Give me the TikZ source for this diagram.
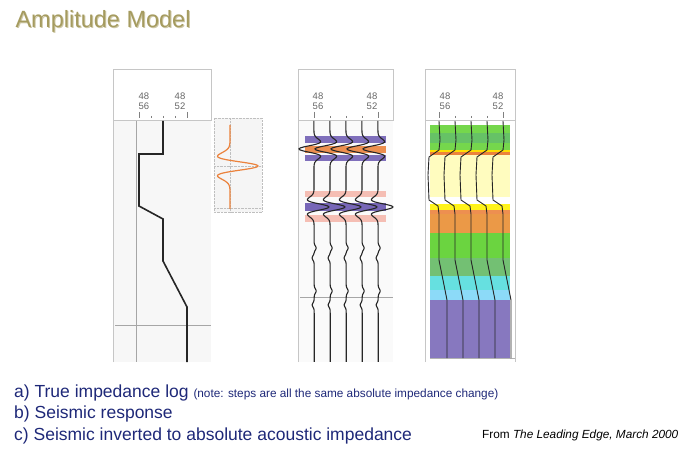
\documentclass[tikz,border=0pt]{standalone}
\usepackage{fontspec}
\setmainfont{Liberation Sans}
\begin{document}
\begin{tikzpicture}[x=1pt,y=-1pt,
  frame/.style={draw=gray!45,line width=1pt},
  lab/.style={font=\fontsize{9.5}{10.5}\selectfont,text=gray!80!black,align=center,inner sep=0},
  trace/.style={line width=1.1pt,black!85},
  declare function={rk(\y,\c,\s)=(1-2*((\y-\c)/\s)^2)*exp(max(-30,-((\y-\c)/\s)^2));
                    gs(\y,\c,\s)=exp(max(-30,-((\y-\c)/\s)^2));}]
\useasboundingbox (0,0) rectangle (694,449);
\definecolor{titc}{RGB}{165,155,95}
\definecolor{txt}{RGB}{30,40,120}
\definecolor{pur}{RGB}{95,75,170}
\definecolor{orn}{RGB}{235,130,60}
\definecolor{pnk}{RGB}{245,190,180}
% title
\node[anchor=west,text=titc!55!white,font=\fontsize{23.5}{24}\selectfont] (tsh) at (13,22) {Amplitude Model};
\node[anchor=west,text=titc,font=\fontsize{23.5}{24}\selectfont] (title) at (12,21) {Amplitude Model};
% ---------- panel a
\fill[gray!6] (113,121) rectangle (211,362);
\draw[frame] (113,362) -- (113,70) -- (211,70) -- (211,121);
\draw[frame] (113,121) -- (211,121);
\node[lab] (a1) at (144,101) {48\\56};
\node[lab] (a2) at (180,101) {48\\52};
\draw[gray] (139,112) -- (139,118) (187,112) -- (187,118);
\foreach \t in {151,163,175} \draw[gray] (\t,116) -- (\t,118);
\draw[gray!70,line width=0.8pt] (136,121) -- (136,362);
\draw[gray!70,line width=0.8pt] (115,325) -- (211,325);
\draw[black!85,line width=1.6pt] (163,121) -- (163,154) -- (139,154) -- (139,206) -- (163,219) -- (163,261) -- (187,307) -- (187,362);
% wavelet
\fill[gray!8] (214,118) rectangle (262,212);
\draw[gray!50,densely dotted] (214,118) rectangle (262,212) (230,118) -- (230,212) (214,166) -- (262,166) (214,208) -- (262,208);
\draw[orn,line width=1.2pt] plot[domain=125:209,samples=120] ({230+28*rk(\x,166,8)},\x);
% ---------- panel b
\fill[gray!4] (298,121) rectangle (393,362);
\draw[frame] (298,362) -- (298,70) -- (393,70) -- (393,121);
\draw[frame] (298,121) -- (393,121);
\node[lab] (b1) at (318,101) {48\\56};
\node[lab] (b2) at (372,101) {48\\52};
\draw[gray] (314,112) -- (314,118) (378,112) -- (378,118);
\foreach \t in {330,346,362} \draw[gray] (\t,116) -- (\t,118);
\fill[pur!80] (305,136) rectangle (386,143);
\fill[orn!90] (305,146) rectangle (386,153);
\fill[pur!80] (305,155) rectangle (386,161);
\fill[pnk] (305,191) rectangle (386,197);
\fill[pur!85] (305,203) rectangle (386,211);
\fill[pnk] (305,215) rectangle (386,222);
\draw[gray!70,line width=0.8pt] (300,297) -- (393,297);
\foreach \xx in {314,330,346,362,378}
  \draw[trace] plot[domain=121:362,samples=260,smooth] ({\xx-15*rk(\x,149,6)+15*rk(\x,207,6)+2*gs(\x,248,3)-2*gs(\x,258,3)+2*gs(\x,291,3)-2*gs(\x,305,3)},\x);
% ---------- panel c
\draw[frame] (425,362) -- (425,70) -- (515,70) -- (515,362);
\draw[frame] (425,121) -- (515,121);
\node[lab] (c1) at (445,101) {48\\56};
\node[lab] (c2) at (498,101) {48\\52};
\draw[gray] (439,112) -- (439,118) (503,112) -- (503,118);
\foreach \t in {455,471,487} \draw[gray] (\t,116) -- (\t,118);
\fill[green!55!olive!70] (430,125) rectangle (510,150);
\fill[green!60!black!60] (430,133) rectangle (510,143);
\fill[yellow!80!orange] (430,150) rectangle (510,152);
\fill[orn] (430,152) rectangle (510,155);
\fill[yellow!25] (430,155) rectangle (510,197);
\fill[white] (430,197) rectangle (510,204);
\fill[yellow!90] (430,204) rectangle (510,210);
\fill[orn!90] (430,210) rectangle (510,214);
\fill[orange!60!brown!80] (430,214) rectangle (510,233);
\fill[green!55!olive!75] (430,233) rectangle (510,258);
\fill[green!55!black!55] (430,258) rectangle (510,276);
\fill[teal!40!cyan!60] (430,276) rectangle (510,290);
\fill[cyan!45] (430,290) rectangle (510,300);
\fill[pur!75] (430,300) rectangle (510,358);
\draw[gray!60] (430,358) -- (515,358);
\foreach \xx in {439,455,471,487,503}
  \draw[trace,line width=0.9pt] (\xx,121) -- (\xx+1,140) -- (\xx,150) -- (\xx-10,157) -- (\xx-11,175) -- (\xx-10,200) -- (\xx-1,206) -- (\xx,214) -- (\xx,260) -- (\xx+8,300) -- (\xx+8,358);
% ---------- text
\node[anchor=base west,text=txt,font=\fontsize{17.5}{18}\selectfont,inner sep=0] (ta) at (14,397) {a) True impedance log {\fontsize{11.8}{12}\selectfont (note: steps are all the same absolute impedance change)}};
\node[anchor=base west,text=txt,font=\fontsize{17.5}{18}\selectfont,inner sep=0] (tb) at (14,418) {b) Seismic response};
\node[anchor=base west,text=txt,font=\fontsize{17.5}{18}\selectfont,inner sep=0] (tc) at (14,440) {c) Seismic inverted to absolute acoustic impedance};
\node[anchor=base west,font=\fontsize{11.8}{12}\selectfont,inner sep=0] (src) at (482,438) {From \textit{The Leading Edge, March 2000}};
\end{tikzpicture}
\end{document}
